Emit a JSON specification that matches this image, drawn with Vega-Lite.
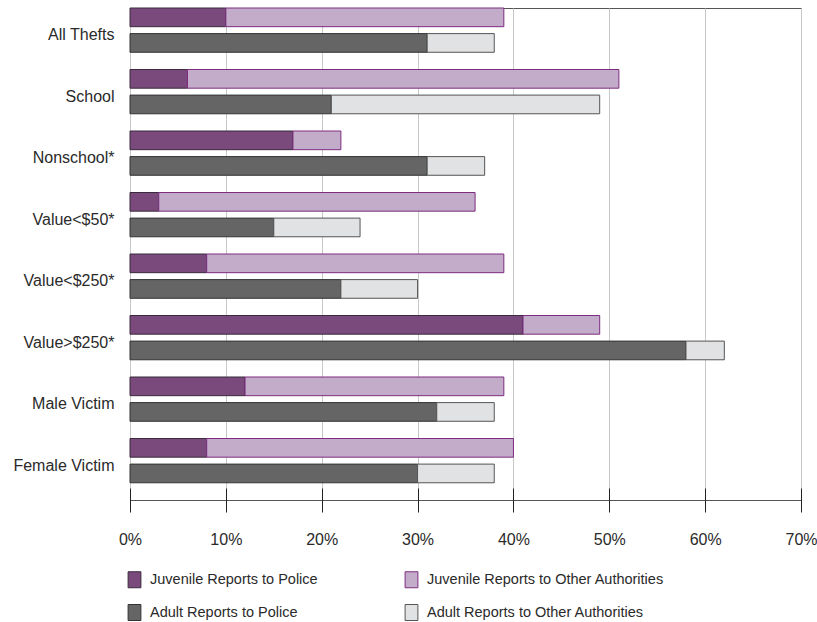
{
  "$schema": "https://vega.github.io/schema/vega-lite/v6.json",
  "autosize": {"type": "none"},
  "padding": {"left": 130, "top": 8, "right": 16, "bottom": 122},
  "width": 671,
  "height": 492,
  "background": "white",
  "config": {
    "font": "Liberation Sans",
    "view": {"stroke": "#555555", "strokeWidth": 1},
    "axis": {"labelFont": "Liberation Sans", "labelColor": "#2a2a2a"}
  },
  "data": {
    "values": [
      {"category": "All Thefts", "group": "Juvenile", "series": "Juvenile Reports to Police", "value": 10},
      {"category": "All Thefts", "group": "Juvenile", "series": "Juvenile Reports to Other Authorities", "value": 29},
      {"category": "All Thefts", "group": "Adult", "series": "Adult Reports to Police", "value": 31},
      {"category": "All Thefts", "group": "Adult", "series": "Adult Reports to Other Authorities", "value": 7},
      {"category": "School", "group": "Juvenile", "series": "Juvenile Reports to Police", "value": 6},
      {"category": "School", "group": "Juvenile", "series": "Juvenile Reports to Other Authorities", "value": 45},
      {"category": "School", "group": "Adult", "series": "Adult Reports to Police", "value": 21},
      {"category": "School", "group": "Adult", "series": "Adult Reports to Other Authorities", "value": 28},
      {"category": "Nonschool*", "group": "Juvenile", "series": "Juvenile Reports to Police", "value": 17},
      {"category": "Nonschool*", "group": "Juvenile", "series": "Juvenile Reports to Other Authorities", "value": 5},
      {"category": "Nonschool*", "group": "Adult", "series": "Adult Reports to Police", "value": 31},
      {"category": "Nonschool*", "group": "Adult", "series": "Adult Reports to Other Authorities", "value": 6},
      {"category": "Value<$50*", "group": "Juvenile", "series": "Juvenile Reports to Police", "value": 3},
      {"category": "Value<$50*", "group": "Juvenile", "series": "Juvenile Reports to Other Authorities", "value": 33},
      {"category": "Value<$50*", "group": "Adult", "series": "Adult Reports to Police", "value": 15},
      {"category": "Value<$50*", "group": "Adult", "series": "Adult Reports to Other Authorities", "value": 9},
      {"category": "Value<$250*", "group": "Juvenile", "series": "Juvenile Reports to Police", "value": 8},
      {"category": "Value<$250*", "group": "Juvenile", "series": "Juvenile Reports to Other Authorities", "value": 31},
      {"category": "Value<$250*", "group": "Adult", "series": "Adult Reports to Police", "value": 22},
      {"category": "Value<$250*", "group": "Adult", "series": "Adult Reports to Other Authorities", "value": 8},
      {"category": "Value>$250*", "group": "Juvenile", "series": "Juvenile Reports to Police", "value": 41},
      {"category": "Value>$250*", "group": "Juvenile", "series": "Juvenile Reports to Other Authorities", "value": 8},
      {"category": "Value>$250*", "group": "Adult", "series": "Adult Reports to Police", "value": 58},
      {"category": "Value>$250*", "group": "Adult", "series": "Adult Reports to Other Authorities", "value": 4},
      {"category": "Male Victim", "group": "Juvenile", "series": "Juvenile Reports to Police", "value": 12},
      {"category": "Male Victim", "group": "Juvenile", "series": "Juvenile Reports to Other Authorities", "value": 27},
      {"category": "Male Victim", "group": "Adult", "series": "Adult Reports to Police", "value": 32},
      {"category": "Male Victim", "group": "Adult", "series": "Adult Reports to Other Authorities", "value": 6},
      {"category": "Female Victim", "group": "Juvenile", "series": "Juvenile Reports to Police", "value": 8},
      {"category": "Female Victim", "group": "Juvenile", "series": "Juvenile Reports to Other Authorities", "value": 32},
      {"category": "Female Victim", "group": "Adult", "series": "Adult Reports to Police", "value": 30},
      {"category": "Female Victim", "group": "Adult", "series": "Adult Reports to Other Authorities", "value": 8}
    ]
  },
  "mark": {"type": "bar", "strokeWidth": 1, "opacity": 1, "fillOpacity": 1},
  "encoding": {
    "y": {
      "field": "category",
      "type": "nominal",
      "sort": null,
      "scale": {"paddingInner": 0.28, "paddingOuter": 0.14, "align": 0, "round": false},
      "axis": {
        "title": null,
        "domain": false,
        "ticks": false,
        "labelFontSize": 16,
        "labelPadding": 16,
        "labelOffset": 5
      }
    },
    "yOffset": {
      "field": "group",
      "type": "nominal",
      "sort": ["Juvenile", "Adult"],
      "scale": {"paddingInner": 0.27, "paddingOuter": 0}
    },
    "x": {
      "field": "value",
      "type": "quantitative",
      "stack": "zero",
      "scale": {"domain": [0, 70], "nice": false},
      "axis": {
        "title": null,
        "values": [0, 10, 20, 30, 40, 50, 60, 70],
        "labelExpr": "datum.value + '%'",
        "labelFontSize": 16,
        "labelPadding": 19,
        "offset": -12,
        "tickSize": 24,
        "tickColor": "#222222",
        "domain": false,
        "grid": true,
        "gridColor": "#c8c8c8",
        "gridWidth": 1,
        "labelFlush": false
      }
    },
    "order": {"field": "series", "sort": "descending"},
    "fill": {
      "field": "series",
      "type": "nominal",
      "scale": {
        "domain": ["Juvenile Reports to Police", "Juvenile Reports to Other Authorities", "Adult Reports to Police", "Adult Reports to Other Authorities"],
        "range": ["#7b4a7c", "#c3acc9", "#656565", "#e1e2e3"]
      },
      "legend": {
        "title": null,
        "orient": "none",
        "direction": "horizontal",
        "legendX": -4,
        "legendY": 563,
        "columns": 2,
        "columnPadding": 85,
        "rowPadding": 12,
        "padding": 0,
        "symbolType": "M-0.8,-1H0.8V1H-0.8Z",
        "symbolSize": 256,
        "symbolStrokeWidth": 1,
        "labelFont": "Liberation Sans",
        "labelFontSize": 14.5,
        "labelColor": "#2a2a2a",
        "labelOffset": 7,
        "labelLimit": 400
      }
    },
    "stroke": {
      "field": "series",
      "type": "nominal",
      "scale": {
        "domain": ["Juvenile Reports to Police", "Juvenile Reports to Other Authorities", "Adult Reports to Police", "Adult Reports to Other Authorities"],
        "range": ["#3b2a3c", "#7d2c80", "#333333", "#555555"]
      },
      "legend": {
        "title": null,
        "orient": "none",
        "direction": "horizontal",
        "legendX": -4,
        "legendY": 563,
        "columns": 2,
        "columnPadding": 85,
        "rowPadding": 12,
        "padding": 0,
        "symbolType": "M-0.8,-1H0.8V1H-0.8Z",
        "symbolSize": 256,
        "symbolStrokeWidth": 1,
        "labelFont": "Liberation Sans",
        "labelFontSize": 14.5,
        "labelColor": "#2a2a2a",
        "labelOffset": 7,
        "labelLimit": 400
      }
    }
  }
}
